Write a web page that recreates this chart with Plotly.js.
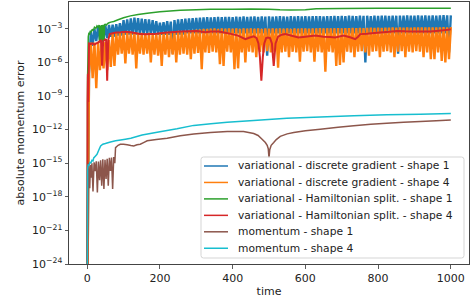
<!DOCTYPE html>
<html><head><meta charset="utf-8">
<script src="https://cdn.plot.ly/plotly-3.0.1.min.js"></script>
<style>html,body{margin:0;padding:0;background:#fff}#chart{width:472px;height:303px}</style>
</head><body><div id="chart"></div>
<script>
// sample times for the two discrete-gradient runs
const timeBand = [0,5,10,15,20,25,30,35,40,45,50,55,60,65,70,75,80,85,90,95,
100,105,110,115,120,125,130,135,140,145,150,155,160,165,170,175,180,185,190,195,
200,205,210,215,220,225,230,235,240,245,250,255,260,265,270,275,280,285,290,295,
300,305,310,315,320,325,330,335,340,345,350,355,360,365,370,375,380,385,390,395,
400,405,410,415,420,425,430,435,440,445,450,455,460,465,470,475,480,485,490,495,
500,505,510,515,520,525,530,535,540,545,550,555,560,565,570,575,580,585,590,595,
600,605,610,615,620,625,630,635,640,645,650,655,660,665,670,675,680,685,690,695,
700,705,710,715,720,725,730,735,740,745,750,755,760,765,770,775,780,785,790,795,
800,805,810,815,820,825,830,835,840,845,850,855,860,865,870,875,880,885,890,895,
900,905,910,915,920,925,930,935,940,945,950,955,960,965,970,975,980,985,990,995,1000];

const dgShape1 = [
1e-30,1e-7,6e-4,3e-5,1e-3,8e-5,1.5e-3,1e-4,1.8e-3,1e-4,
2e-3,1.5e-4,2.2e-3,2e-4,2.4e-3,2e-4,2.6e-3,2.5e-4,3.2e-3,2.5e-4,
6e-3,3e-4,7e-3,3e-4,8.5e-3,3e-4,1e-2,3e-4,9e-3,3e-4,
8e-3,3e-4,7.5e-3,3e-4,7e-3,3e-4,6e-3,3e-4,4.8e-3,3e-4,
3.6e-3,3e-4,4e-3,3e-4,5e-3,3e-4,4.5e-3,6e-6,6e-3,3e-4,
7e-3,3e-4,7.5e-3,3e-4,8e-3,4e-4,8.5e-3,4e-4,9e-3,4e-4,
9.5e-3,4e-4,1e-2,4e-4,1.05e-2,4e-4,1.1e-2,4e-4,1.05e-2,4e-4,
1.1e-2,4e-4,1.2e-2,4e-4,1.1e-2,4e-4,1.15e-2,4e-4,1.2e-2,4e-4,
1.1e-2,4e-4,1.25e-2,4e-4,1.2e-2,4e-4,1.3e-2,4e-4,1.2e-2,4e-4,
1.25e-2,4e-4,1.3e-2,4e-4,1.2e-2,4e-4,1.3e-2,4e-4,1.25e-2,4e-6,
1.3e-2,4e-4,1.25e-2,4e-4,1.3e-2,4e-4,1.35e-2,4e-4,1.3e-2,4e-4,
1.25e-2,4e-4,1.35e-2,4e-4,1.3e-2,4e-4,1.4e-2,4e-4,1.3e-2,4e-4,
1.35e-2,4e-4,1.3e-2,4e-4,1.4e-2,4e-4,1.35e-2,4e-4,1.4e-2,4e-4,
1.3e-2,4e-4,1.4e-2,4e-4,1.35e-2,4e-4,1.45e-2,4e-4,1.4e-2,4e-4,
1.45e-2,4e-4,1.4e-2,4e-4,1.5e-2,4e-4,1.45e-2,4e-4,1.4e-2,4e-4,
1.5e-2,4e-4,1.45e-2,1e-6,1.5e-2,4e-4,1.4e-2,4e-4,1.5e-2,4e-4,
1.45e-2,4e-4,1.55e-2,4e-4,1.5e-2,4e-4,1.45e-2,4e-4,1.55e-2,4e-4,
1.5e-2,6e-6,1.55e-2,4e-4,1.5e-2,4e-4,1.6e-2,4e-4,1.5e-2,4e-4,
1.55e-2,4e-4,1.6e-2,4e-4,1.5e-2,4e-4,1.6e-2,4e-4,1.55e-2,4e-4,
1.6e-2,4e-4,1.55e-2,4e-4,1.6e-2,4e-4,1.65e-2,4e-4,1.6e-2,8e-6,
1.6e-2];

const dgShape4 = [
1e-30,1e-7,6e-5,4e-8,6e-5,5e-9,7e-5,2e-7,6e-5,3e-7,
7e-5,2e-7,1e-4,4e-7,4e-4,5e-7,4.5e-4,5e-6,4.5e-4,6e-6,
4.5e-4,8e-7,5e-4,6e-6,4.5e-4,5e-6,5e-4,3e-7,4.5e-4,6e-6,
4.5e-4,5e-6,4e-4,6e-6,4.5e-4,1e-6,4e-4,5e-6,4e-4,4e-6,
4e-4,5e-7,4.5e-4,5e-6,4e-4,3e-6,4.5e-4,5e-6,5e-4,1e-6,
5e-4,5e-6,6e-4,6e-6,6.5e-4,5e-6,7e-4,2e-6,8e-4,6e-6,
8.5e-4,7e-6,9e-4,2.5e-7,1e-3,8e-6,1e-3,7e-6,1.05e-3,9e-6,
1.1e-3,8e-6,1e-3,7e-7,1.1e-3,5e-7,1.05e-3,9e-6,1.1e-3,8e-6,
1.05e-3,2.5e-7,1.1e-3,3e-7,1e-3,8e-6,1.1e-3,1e-6,1.05e-3,9e-6,
1.1e-3,8e-6,1.05e-3,3e-6,1.1e-3,9e-6,1e-3,8e-6,1.1e-3,1e-5,
1.05e-3,8e-6,1.1e-3,9e-6,1.05e-3,3.5e-7,1.1e-3,8e-6,1.05e-3,9e-6,
1.1e-3,3e-6,1e-3,9e-6,1.1e-3,8e-6,1.05e-3,1.2e-6,1.1e-3,9e-6,
1.1e-3,1e-5,1.05e-3,8e-6,1.1e-3,1.2e-6,1.1e-3,9e-6,1.15e-3,8e-6,
1.1e-3,1.5e-7,1.15e-3,9e-6,1.1e-3,8e-6,1.15e-3,5e-7,1.2e-3,6e-7,
1.15e-3,1e-6,1.2e-3,9e-6,1.2e-3,8e-6,1.25e-3,3e-6,1.2e-3,9e-6,
1.25e-3,1e-5,1.2e-3,8e-6,1.25e-3,4e-6,1.3e-3,9e-6,1.25e-3,1e-5,
1.3e-3,3e-6,1.25e-3,9e-6,1.3e-3,1e-5,1.3e-3,8e-6,1.35e-3,3e-6,
1.3e-3,9e-6,1.35e-3,1e-5,1.3e-3,3e-6,1.35e-3,9e-6,1.3e-3,8e-6,
1.35e-3,1e-5,1.4e-3,9e-6,1.35e-3,3e-6,1.4e-3,8e-6,1.35e-3,2e-6,
1.4e-3,2e-6,1.35e-3,8e-6,1.4e-3,1.4e-6,1.45e-3,1e-6,1.4e-3,2e-6,
1.45e-3];

const hsTime1 = [0,1,2,3,5,7,9,11,14,17,20,24,27,30,33,34,36,38,40,42,44,46,48,50,53,56,60,65,73,85,
100,119,140,165,200,256,300,339,400,450,500,530,560,600,630,700,800,900,1000];
const hsShape1 = [1e-30,4e-8,1e-6,2e-4,4.7e-4,3e-4,7e-4,5e-4,9.3e-4,7e-4,
1.4e-3,1.1e-3,1.9e-3,1.5e-3,2.2e-3,6e-5,2e-3,8e-5,2.2e-3,6e-5,
2.3e-3,9e-5,2.4e-3,2.5e-3,2.2e-3,3e-3,3.5e-3,4e-3,4.5e-3,6.5e-3,
1e-2,1.45e-2,1.9e-2,2.5e-2,3.3e-2,4.7e-2,5.2e-2,5.7e-2,5.7e-2,5.9e-2,
5.6e-2,5e-2,4.8e-2,5e-2,6.3e-2,6.6e-2,6.8e-2,6.8e-2,7e-2];

const hsTime4 = [0,1,2,3,5,10,15,20,25,30,35,38,41,44,48,52,55,58,62,70,80,92,105,120,135,146,160,175,183,200,
220,240,256,280,302,325,340,362,380,398,415,435,445,458,466,471,475,479,483,487,492,497,503,508,511,513,515,518,525,535,
545,560,581,600,627,650,668,682,705,725,737,745,751,770,790,806,830,852,875,898,920,943,960,980,992,1000];
const hsShape4 = [1e-30,4e-10,1e-7,3e-10,5e-5,4.5e-5,5e-5,4e-5,5e-5,6e-5,8e-5,9e-5,5e-7,8e-5,1e-4,1.2e-4,2.3e-8,1e-4,3.5e-4,4e-4,4.7e-4,5e-4,5.5e-4,5e-4,4e-4,3.4e-4,3.3e-4,3.4e-4,3.4e-4,4e-4,
4.7e-4,5.2e-4,5.7e-4,6.2e-4,6.6e-4,5e-4,5.7e-4,5.8e-4,4.5e-4,3.4e-4,2.5e-4,1.2e-4,1.6e-4,2.2e-4,1.5e-4,5e-5,3e-6,2.3e-8,3e-6,5e-5,1.5e-4,1.7e-4,1.5e-4,5e-5,3e-6,5e-7,3e-6,5e-5,2e-4,3e-4,
3.4e-4,2.6e-4,1.7e-4,2e-4,2.5e-4,2e-4,1.9e-4,1.7e-4,2.5e-4,1.7e-4,1.2e-4,2e-4,3.4e-4,3.6e-4,4.2e-4,4.7e-4,5.5e-4,6.6e-4,6e-4,5.7e-4,5.8e-4,5.7e-4,6.5e-4,7.6e-4,8.5e-4,9.3e-4];

const momTime1 = [0,2,3,5,7,9,11,13,16,19,22,25,28,31,34,37,40,43,46,49,52,55,58,61,64,67,70,73,76,78,
85,91,100,110,120,128,137,146,155,165,190,220,256,293,339,385,430,458,470,481,490,495,498,500,502,506,513,520,531,550,
568,600,641,690,733,780,824,870,916,960,1000];
const momShape1 = [1e-30,1e-18,1e-15,2e-16,6e-18,7e-16,5e-17,1e-15,3e-18,1.2e-15,2e-16,1.5e-15,2.5e-18,1.4e-15,3e-17,1.8e-15,1e-17,2.2e-15,5e-18,2e-15,4e-17,2.5e-15,1e-17,3e-15,2e-16,3.2e-15,5e-18,3.5e-15,1e-15,2.5e-14,
4e-14,5e-14,5e-14,4.5e-14,3.8e-14,3.5e-14,4.5e-14,5e-14,7e-14,1e-13,1.3e-13,1.7e-13,2.8e-13,4e-13,5.5e-13,6.8e-13,6.8e-13,4.5e-13,3e-13,1.4e-13,7e-14,4e-14,2e-14,3e-15,1.6e-14,4e-14,7e-14,1.3e-13,2.5e-13,4.2e-13,
5.5e-13,8e-13,1.1e-12,1.6e-12,2.2e-12,3e-12,3.8e-12,4.6e-12,5.2e-12,6.2e-12,7.4e-12];

const momTime4 = [0,1,3,5,8,10,13,16,18,23,27,32,37,43,50,64,78,92,105,120,151,200,247,293,340,385,458,549,641,733,824,916,1000];
const momShape4 = [1e-30,3e-16,8e-16,6e-16,1.3e-15,1e-15,1.8e-15,1.6e-15,3e-15,4.5e-15,6.3e-15,1.5e-14,3.5e-14,5e-14,5.8e-14,8e-14,1e-13,1.2e-13,1.4e-13,1.7e-13,3.3e-13,6.5e-13,1.2e-12,2.4e-12,3.4e-12,4.5e-12,6.7e-12,1.05e-11,1.38e-11,1.7e-11,2.1e-11,2.4e-11,2.75e-11];

const seriesNames = ['variational - discrete gradient - shape 1','variational - discrete gradient - shape 4',
'variational - Hamiltonian split. - shape 1','variational - Hamiltonian split. - shape 4',
'momentum - shape 1','momentum - shape 4'];
const xTicks = [0,200,400,600,800,1000];
const yTickVals = [1e-24,1e-21,1e-18,1e-15,1e-12,1e-9,1e-6,1e-3];
const yTickText = ['10<sup>−24</sup>','10<sup>−21</sup>','10<sup>−18</sup>','10<sup>−15</sup>','10<sup>−12</sup>','10<sup>−9</sup>','10<sup>−6</sup>','10<sup>−3</sup>'];

const colors = ['#1f77b4','#ff7f0e','#2ca02c','#d62728','#8c564b','#17becf'];
const widths = [2.4,2.4,1.5,2,1.5,1.5];
const xs = [timeBand,timeBand,hsTime1,hsTime4,momTime1,momTime4];
const ys = [dgShape1,dgShape4,hsShape1,hsShape4,momShape1,momShape4];
const traces = ys.map((y,i)=>({x:xs[i],y:y,type:'scatter',mode:'lines',name:seriesNames[i],showlegend:false,
  line:{color:colors[i],width:widths[i],simplify:false},hoverinfo:'skip'}));

// page geometry (px)
const W=472,H=303,M={l:69,r:3,t:2,b:39};
const pw=W-M.l-M.r, ph=H-M.t-M.b;
const px2x = p => (p-M.l)/pw;
const px2y = p => (H-M.b-p)/ph;

// hand-built legend box (matplotlib-like)
const lg = {x0:201,x1:464,y0:157,y1:258,row0:166,dy:16.45,s0:204,s1:228,tx:236};
const r=2.5;
const bx0=px2x(lg.x0),bx1=px2x(lg.x1),by0=px2y(lg.y1),by1=px2y(lg.y0);
const rx=r/pw, ry=r/ph;
const boxPath = `M ${bx0+rx},${by0} L ${bx1-rx},${by0} Q ${bx1},${by0} ${bx1},${by0+ry} L ${bx1},${by1-ry} Q ${bx1},${by1} ${bx1-rx},${by1} L ${bx0+rx},${by1} Q ${bx0},${by1} ${bx0},${by1-ry} L ${bx0},${by0+ry} Q ${bx0},${by0} ${bx0+rx},${by0} Z`;
const shapes = [{type:'path',xref:'paper',yref:'paper',path:boxPath,fillcolor:'rgba(255,255,255,0.8)',
  line:{color:'#d5d5d5',width:1},layer:'above'}];
const annotations = [];
const font = {family:'DejaVu Sans, sans-serif',size:11,color:'#222'};
seriesNames.forEach((n,i)=>{
  const yc = px2y(lg.row0 + i*lg.dy);
  shapes.push({type:'line',xref:'paper',yref:'paper',x0:px2x(lg.s0),x1:px2x(lg.s1),y0:yc,y1:yc,
    line:{color:colors[i],width:1.5},layer:'above'});
  annotations.push({xref:'paper',yref:'paper',x:px2x(lg.tx),y:yc,xanchor:'left',yanchor:'middle',
    text:n,showarrow:false,font:{family:font.family,size:10.7,color:'#222'}});
});

const layout = {
  width:W,height:H,
  margin:M,
  paper_bgcolor:'#fff',plot_bgcolor:'#fff',
  font:font,showlegend:false,
  xaxis:{range:[-50,1050],tickvals:xTicks,ticks:'outside',ticklen:3.5,tickwidth:0.8,tickcolor:'#333',
    showline:true,mirror:true,linecolor:'#444',linewidth:1,showgrid:false,zeroline:false,
    title:{text:'time',font:font,standoff:3},tickfont:font},
  yaxis:{type:'log',range:[-24,-0.6],tickvals:yTickVals,ticktext:yTickText,ticks:'outside',ticklen:3.5,tickwidth:0.8,tickcolor:'#333',
    showline:true,mirror:true,linecolor:'#444',linewidth:1,showgrid:false,zeroline:false,
    title:{text:'absolute momentum error',font:font,standoff:5},tickfont:font},
  shapes:shapes,annotations:annotations
};
Plotly.newPlot('chart',traces,layout,{staticPlot:true,displayModeBar:false});
</script></body></html>
